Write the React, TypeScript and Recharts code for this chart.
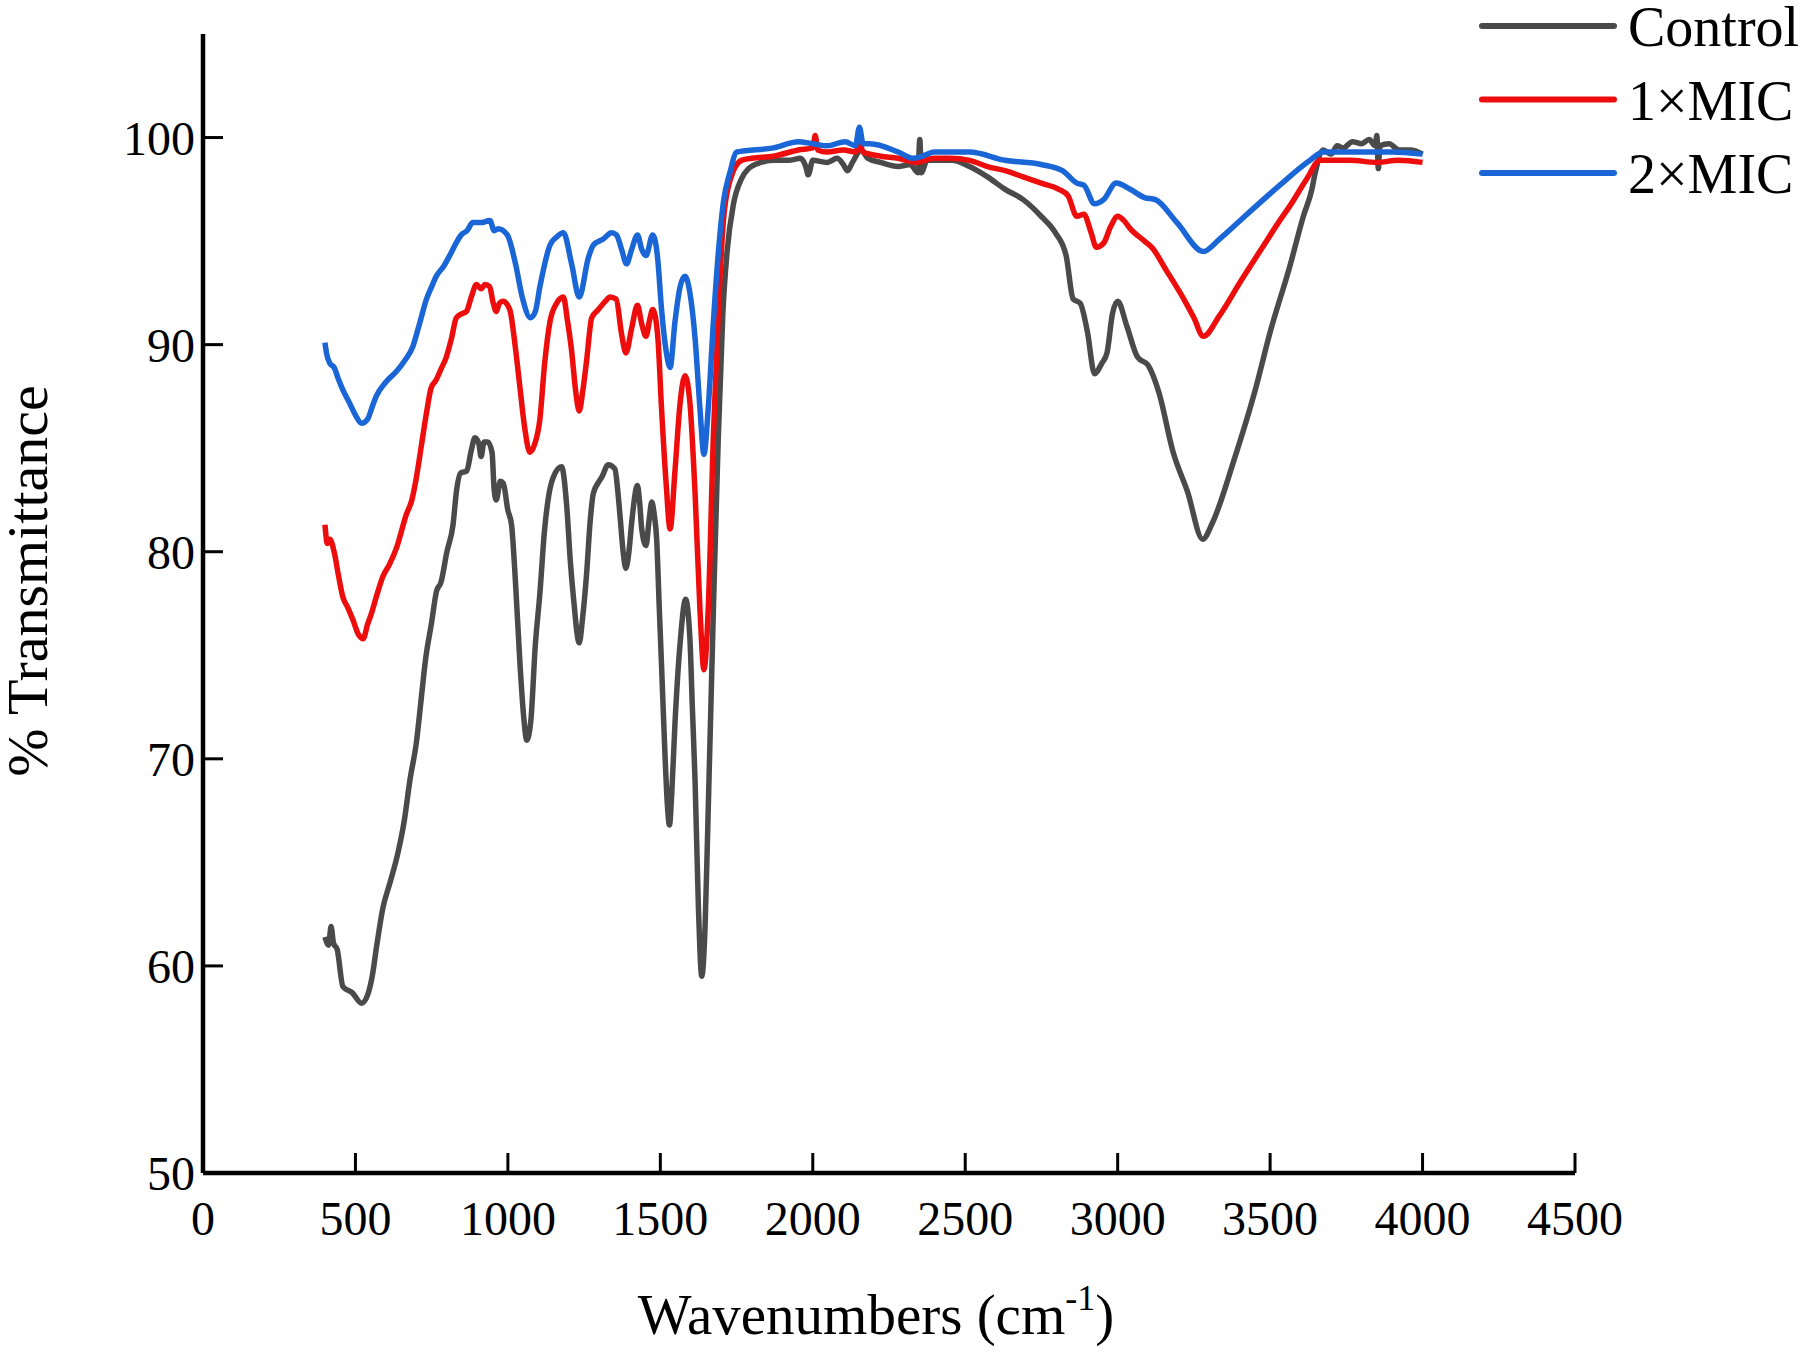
import { LineChart, Line, XAxis, YAxis, Label } from "recharts"

const xTicks = [0, 500, 1000, 1500, 2000, 2500, 3000, 3500, 4000, 4500]
const yTicks = [50, 60, 70, 80, 90, 100]

// [wavenumber, % transmittance]
const control: [number, number][] = [
  [400, 61.4], [412, 61.0], [420, 61.9], [428, 61.1], [440, 60.8], [459, 59.0], [490, 58.7],
  [520, 58.2], [540, 58.6], [555, 59.5], [570, 61.0], [590, 62.8], [613, 64.0], [640, 65.5],
  [660, 67.0], [679, 69.0], [700, 70.8], [715, 72.8], [730, 74.8], [750, 76.6], [766, 78.1],
  [780, 78.5], [800, 80.0], [820, 81.3], [832, 83.0], [845, 83.8], [865, 83.9], [880, 84.9],
  [892, 85.5], [905, 85.2], [912, 84.6], [922, 85.3], [934, 85.3], [948, 84.8], [955, 83.0],
  [962, 82.5], [975, 83.4], [985, 83.3], [1000, 82.0], [1012, 81.3], [1025, 78.5], [1040, 74.5],
  [1052, 72.0], [1062, 70.9], [1075, 71.8], [1090, 75.5], [1105, 78.0], [1120, 81.0], [1135, 82.8],
  [1149, 83.6], [1176, 84.1], [1193, 82.2], [1205, 79.5], [1215, 77.8], [1234, 75.6], [1245, 76.8],
  [1258, 78.9], [1270, 81.5], [1280, 82.8], [1295, 83.3], [1308, 83.6], [1329, 84.2], [1351, 84.0],
  [1360, 83.0], [1368, 81.7], [1378, 80.0], [1387, 79.2], [1397, 80.0], [1406, 81.4], [1425, 83.2],
  [1432, 82.4], [1439, 81.1], [1453, 80.3], [1463, 81.5], [1472, 82.4], [1480, 81.8], [1488, 80.6],
  [1496, 77.5], [1504, 74.5], [1515, 70.3], [1523, 67.8], [1530, 66.8], [1538, 68.5], [1548, 71.7],
  [1565, 75.6], [1583, 77.7], [1597, 75.8], [1605, 72.5], [1614, 68.9], [1625, 62.8], [1636, 59.5],
  [1647, 62.0], [1657, 67.5], [1674, 77.2], [1690, 85.5], [1705, 91.5], [1719, 94.5], [1740, 96.8],
  [1766, 98.0], [1789, 98.5], [1830, 98.8], [1871, 98.9], [1920, 98.9], [1960, 99.0], [1977, 98.6],
  [1985, 98.2], [2000, 98.9], [2047, 98.8], [2080, 99.0], [2100, 98.7], [2114, 98.4], [2130, 98.8],
  [2159, 99.4], [2180, 99.0], [2222, 98.8], [2280, 98.6], [2320, 98.7], [2345, 98.3], [2351, 99.9],
  [2356, 98.3], [2375, 98.9], [2397, 98.9], [2456, 98.9], [2514, 98.6], [2573, 98.1], [2631, 97.5],
  [2690, 97.0], [2749, 96.2], [2796, 95.4], [2831, 94.3], [2854, 92.2], [2877, 92.0], [2901, 90.6],
  [2924, 88.6], [2948, 89.1], [2965, 89.6], [2983, 91.5], [3000, 92.1], [3030, 90.9], [3065, 89.4],
  [3100, 89.0], [3135, 87.7], [3182, 84.8], [3229, 82.9], [3279, 80.6], [3311, 81.4], [3381, 84.4],
  [3451, 87.8], [3500, 90.6], [3565, 93.8], [3609, 96.2], [3637, 97.5], [3648, 98.3], [3674, 99.4],
  [3700, 99.2], [3720, 99.6], [3740, 99.5], [3770, 99.8], [3800, 99.7], [3825, 99.9], [3845, 99.6],
  [3850, 100.1], [3855, 98.5], [3860, 99.6], [3890, 99.7], [3923, 99.4], [3960, 99.4], [4000, 99.2],
]

const mic1: [number, number][] = [
  [400, 81.3], [408, 80.4], [416, 80.6], [430, 80.0], [445, 78.8], [459, 77.8], [475, 77.3],
  [492, 76.7], [510, 76.0], [525, 75.8], [540, 76.5], [552, 77.0], [568, 77.8], [590, 78.8],
  [612, 79.4], [635, 80.2], [667, 81.8], [685, 82.5], [700, 83.6], [715, 85.0], [733, 86.7],
  [748, 87.9], [765, 88.3], [780, 88.8], [798, 89.4], [815, 90.3], [831, 91.3], [850, 91.5],
  [864, 91.6], [880, 92.3], [897, 92.9], [912, 92.7], [925, 92.9], [940, 92.8], [952, 92.0],
  [962, 91.6], [972, 92.0], [984, 92.1], [1006, 91.7], [1025, 89.8], [1039, 88.0], [1055, 86.0],
  [1072, 84.8], [1088, 85.2], [1105, 86.4], [1120, 89.0], [1138, 91.1], [1160, 92.0], [1182, 92.3],
  [1195, 91.2], [1209, 89.7], [1222, 87.8], [1234, 86.8], [1246, 87.8], [1258, 89.2], [1275, 91.3],
  [1297, 91.7], [1320, 92.1], [1335, 92.3], [1355, 92.2], [1373, 90.5], [1387, 89.6], [1406, 90.8],
  [1425, 91.9], [1439, 91.0], [1453, 90.4], [1465, 91.2], [1475, 91.7], [1491, 90.5], [1504, 86.9],
  [1519, 83.3], [1532, 81.1], [1548, 83.9], [1565, 87.2], [1581, 88.5], [1597, 87.2], [1614, 82.8],
  [1630, 77.2], [1643, 74.3], [1657, 77.2], [1674, 85.6], [1690, 91.5], [1707, 96.0], [1728, 97.9],
  [1766, 98.9], [1800, 99.0], [1871, 99.1], [1953, 99.4], [2000, 99.5], [2008, 100.1], [2016, 99.4],
  [2047, 99.3], [2100, 99.4], [2141, 99.3], [2153, 99.8], [2165, 99.3], [2222, 99.1], [2280, 99.0],
  [2339, 98.8], [2397, 99.0], [2450, 99.0], [2514, 98.9], [2573, 98.6], [2631, 98.4], [2690, 98.1],
  [2749, 97.8], [2807, 97.5], [2837, 97.2], [2866, 96.2], [2889, 96.3], [2913, 95.4], [2930, 94.7],
  [2954, 94.9], [2977, 95.7], [3000, 96.2], [3020, 96.0], [3041, 95.6], [3088, 95.0], [3112, 94.7],
  [3159, 93.6], [3217, 92.2], [3250, 91.3], [3281, 90.4], [3334, 91.4], [3405, 93.1], [3475, 94.7],
  [3532, 96.0], [3565, 96.7], [3620, 98.0], [3664, 98.9], [3762, 98.9], [3850, 98.8], [3920, 98.9],
  [4000, 98.8],
]

const mic2: [number, number][] = [
  [400, 90.1], [405, 89.6], [416, 89.1], [430, 88.9], [445, 88.3], [459, 87.8], [480, 87.2],
  [500, 86.6], [520, 86.2], [540, 86.4], [555, 87.0], [568, 87.5], [600, 88.2], [634, 88.7],
  [660, 89.2], [688, 89.9], [710, 91.0], [733, 92.2], [750, 92.8], [765, 93.3], [790, 93.8],
  [809, 94.3], [830, 94.9], [847, 95.3], [866, 95.5], [885, 95.9], [915, 95.9], [941, 96.0],
  [955, 95.5], [968, 95.6], [998, 95.3], [1025, 93.9], [1047, 92.3], [1074, 91.3], [1090, 91.6],
  [1105, 92.8], [1138, 94.8], [1160, 95.2], [1182, 95.4], [1209, 93.9], [1234, 92.3], [1264, 94.2],
  [1280, 94.8], [1313, 95.1], [1340, 95.4], [1356, 95.3], [1373, 94.6], [1389, 93.9], [1406, 94.6],
  [1425, 95.3], [1439, 94.6], [1453, 94.3], [1475, 95.3], [1491, 94.2], [1504, 91.7], [1519, 89.7],
  [1532, 88.9], [1548, 91.1], [1565, 92.8], [1581, 93.3], [1597, 92.5], [1614, 90.3], [1630, 86.9],
  [1643, 84.7], [1657, 86.9], [1674, 91.1], [1690, 94.4], [1707, 96.9], [1728, 98.3], [1751, 99.3],
  [1871, 99.5], [1953, 99.8], [2000, 99.7], [2047, 99.6], [2106, 99.8], [2140, 99.6], [2153, 100.5],
  [2165, 99.7], [2188, 99.7], [2280, 99.3], [2327, 99.0], [2360, 99.1], [2397, 99.3], [2514, 99.3],
  [2631, 98.9], [2749, 98.7], [2819, 98.4], [2866, 97.8], [2889, 97.7], [2924, 96.8], [2954, 97.0],
  [2995, 97.8], [3041, 97.5], [3088, 97.1], [3124, 97.0], [3194, 95.9], [3281, 94.5], [3334, 95.1],
  [3417, 96.2], [3532, 97.7], [3631, 98.9], [3674, 99.3], [3800, 99.3], [3900, 99.3], [4000, 99.2],
]

const series = [
  { name: "Control", color: "#4a4a4a", points: control },
  { name: "1×MIC", color: "#ee0d0d", points: mic1 },
  { name: "2×MIC", color: "#1a66d6", points: mic2 },
]

const FONT = "'Liberation Serif', 'Times New Roman', serif"
const tickStyle = { fill: "#000", fontSize: 48, fontFamily: FONT }

const toRows = (pairs: [number, number][]) => pairs.map(([w, t]) => ({ w, t }))

function XTitle() {
  return (
    <text x={876} y={1334} textAnchor="middle" fontFamily={FONT} fontSize={57} fill="#000">
      Wavenumbers (cm
      <tspan dy={-24} fontSize={36}>-1</tspan>
      <tspan dy={24}>)</tspan>
    </text>
  )
}

function YTitle() {
  return (
    <text
      x={47}
      y={581}
      transform="rotate(-90 47 581)"
      textAnchor="middle"
      fontFamily={FONT}
      fontSize={58}
      fill="#000"
    >
      % Transmittance
    </text>
  )
}

export default function App() {
  return (
    <div style={{ position: "absolute", left: 0, top: 0, width: 1807, height: 1354, background: "#fff" }}>
      <LineChart width={1807} height={1354} margin={{ top: 34, right: 232, left: 0, bottom: 0 }}>
        <XAxis
          dataKey="w"
          type="number"
          domain={[0, 4500]}
          ticks={xTicks}
          height={181}
          axisLine={{ stroke: "#000", strokeWidth: 4.5 }}
          tickLine={{ stroke: "#000", strokeWidth: 3 }}
          tickSize={-20}
          tickMargin={48}
          tick={tickStyle}
          label={<Label content={() => <XTitle />} />}
        />
        <YAxis
          type="number"
          domain={[50, 105]}
          ticks={yTicks}
          width={203}
          allowDataOverflow
          axisLine={{ stroke: "#000", strokeWidth: 4.5 }}
          tickLine={{ stroke: "#000", strokeWidth: 3 }}
          tickSize={-20}
          tickMargin={28}
          tick={tickStyle}
          label={<Label content={() => <YTitle />} />}
        />
        {series.map((s) => (
          <Line
            key={s.name}
            name={s.name}
            data={toRows(s.points)}
            dataKey="t"
            type="monotone"
            stroke={s.color}
            strokeWidth={5.5}
            dot={false}
            isAnimationActive={false}
          />
        ))}
      </LineChart>
      <svg
        width={1807}
        height={220}
        style={{ position: "absolute", left: 0, top: 0, pointerEvents: "none" }}
      >
        {series.map((s, i) => (
          <g key={s.name}>
            <line
              x1={1482}
              x2={1614}
              y1={26 + i * 73.5}
              y2={26 + i * 73.5}
              stroke={s.color}
              strokeWidth={6}
              strokeLinecap="round"
            />
            <text x={1628} y={46 + i * 73.5} fontFamily={FONT} fontSize={56} fill="#000">
              {s.name}
            </text>
          </g>
        ))}
      </svg>
    </div>
  )
}
